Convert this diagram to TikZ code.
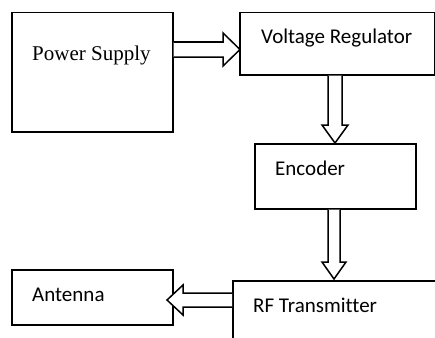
\documentclass[tikz,border=0pt]{standalone}
\usepackage{fontspec}
\setmainfont[Ligatures=NoCommon]{Carlito}
\newfontfamily\serifface{Liberation Serif}
\begin{document}
\begin{tikzpicture}[x=1pt,y=-1pt,
  box/.style={draw,line width=1.5pt,rectangle,inner sep=0pt,anchor=north west},
  lbl/.style={anchor=base west,inner sep=0pt,font=\fontsize{21}{25}\selectfont},
  blockarrow/.style={draw,line width=1.5pt,fill=white,line join=miter}]
\useasboundingbox (0,0) rectangle (435,337);
\clip (0,0) rectangle (435,337);
% boxes
\node[box,minimum width=161pt,minimum height=119pt] (ps) at (11,12) {};
\node[box,minimum width=195pt,minimum height=62pt] (vr) at (239,12) {};
\node[box,minimum width=161pt,minimum height=65pt] (enc) at (254,143) {};
\node[box,minimum width=230pt,minimum height=80pt] (rf) at (232,280) {};
\node[box,minimum width=161pt,minimum height=55pt] (ant) at (11,269) {};
% labels
\node[lbl,font=\serifface\fontsize{21}{25}\selectfont] (tps) at (32,60) {Power Supply};
\node[lbl] (tvr) at (261,43) {Voltage Regulator};
\node[lbl] (tenc) at (275,175) {Encoder};
\node[lbl] (trf) at (253,312) {RF Transmitter};
\node[lbl] (tant) at (32,301) {Antenna};
% block arrows
\draw[blockarrow] (ps.east |- 0,42) -- (223,42) -- (223,33) -- (240,49.5) -- (223,66) -- (223,57) -- (ps.east |- 0,57);
\draw[blockarrow] (328,0 |- vr.south) -- (328,125) -- (322,125) -- (335,143) -- (348,125) -- (342,125) -- (342,0 |- vr.south);
\draw[blockarrow] (328,0 |- enc.south) -- (328,262) -- (322,262) -- (334,279) -- (346,262) -- (340,262) -- (340,0 |- enc.south);
\draw[blockarrow] (rf.west |- 0,293) -- (183,293) -- (183,285) -- (167,300) -- (183,315) -- (183,307) -- (rf.west |- 0,307);
\end{tikzpicture}
\end{document}
